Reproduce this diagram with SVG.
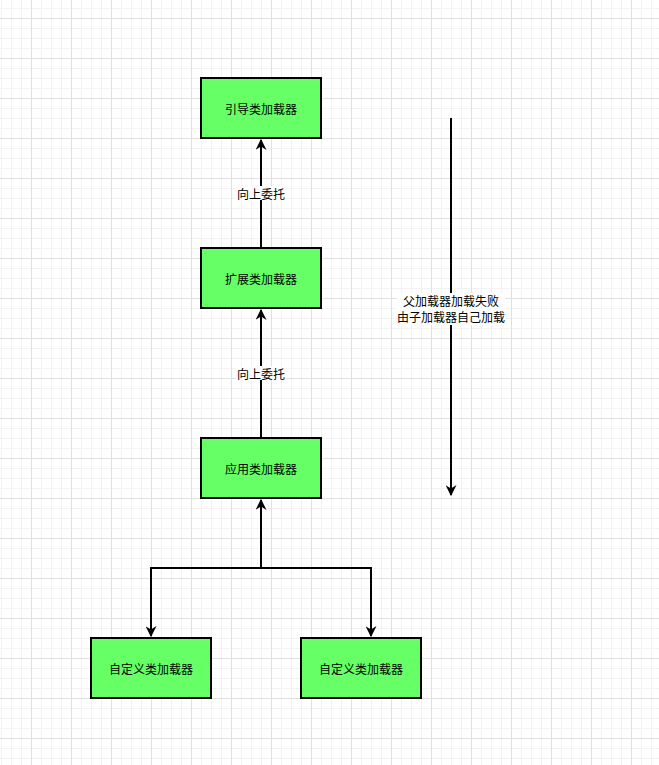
<svg xmlns="http://www.w3.org/2000/svg" width="659" height="765" viewBox="0 0 659 765">
<style>
.node rect{fill:#66ff66;stroke:#000;stroke-width:2}
text{font-family:"Noto Sans CJK SC","Liberation Sans",sans-serif;font-size:12px;fill:#000;text-anchor:middle;dominant-baseline:central}
.edge{fill:none;stroke:#000;stroke-width:2}
.lbl{fill:#fff}
</style>
<defs>
<pattern id="minor" width="10" height="10" patternUnits="userSpaceOnUse" x="1" y="8">
<path d="M0.5 0V10M0 0.5H10" stroke="#f2f2f2" stroke-width="1" fill="none"/>
</pattern>
<pattern id="major" width="40" height="40" patternUnits="userSpaceOnUse" x="31" y="18">
<path d="M0.5 0V40M0 0.5H40" stroke="#e0e0e0" stroke-width="1" fill="none"/>
</pattern>
<marker id="arr" viewBox="0 0 10 10" refX="9" refY="5" markerWidth="5.5" markerHeight="5.5" orient="auto" markerUnits="strokeWidth">
<path d="M0 0L10 5L0 10L3 5Z" fill="#000"/>
</marker>
</defs>
<rect width="659" height="765" fill="#fff"/>
<rect width="659" height="765" fill="url(#minor)"/>
<rect width="659" height="765" fill="url(#major)"/>
<g id="connectors">
<path class="edge" d="M261 248V140" marker-end="url(#arr)"/>
<rect class="lbl" x="236" y="186" width="50" height="14"/>
<text x="261" y="193">向上委托</text>
<path class="edge" d="M261 438V310" marker-end="url(#arr)"/>
<rect class="lbl" x="236" y="366" width="50" height="14"/>
<text x="261" y="373">向上委托</text>
<path class="edge" d="M261 568V500" marker-end="url(#arr)"/>
<path class="edge" d="M261 568H151V636" marker-end="url(#arr)"/>
<path class="edge" d="M261 568H371V636" marker-end="url(#arr)"/>
<path class="edge" d="M451 118V495" marker-end="url(#arr)"/>
<rect class="lbl" x="397" y="293" width="108" height="32"/>
<text x="451" y="300.5">父加载器加载失败</text>
<text x="451" y="316.5">由子加载器自己加载</text>
</g>
<g id="n1" class="node"><rect x="201" y="78" width="120" height="60"/><text x="261" y="108">引导类加载器</text></g>
<g id="n2" class="node"><rect x="201" y="248" width="120" height="60"/><text x="261" y="278">扩展类加载器</text></g>
<g id="n3" class="node"><rect x="201" y="438" width="120" height="60"/><text x="261" y="468">应用类加载器</text></g>
<g id="n4" class="node"><rect x="91" y="638" width="120" height="60"/><text x="151" y="668">自定义类加载器</text></g>
<g id="n5" class="node"><rect x="301" y="638" width="120" height="60"/><text x="361" y="668">自定义类加载器</text></g>
</svg>
